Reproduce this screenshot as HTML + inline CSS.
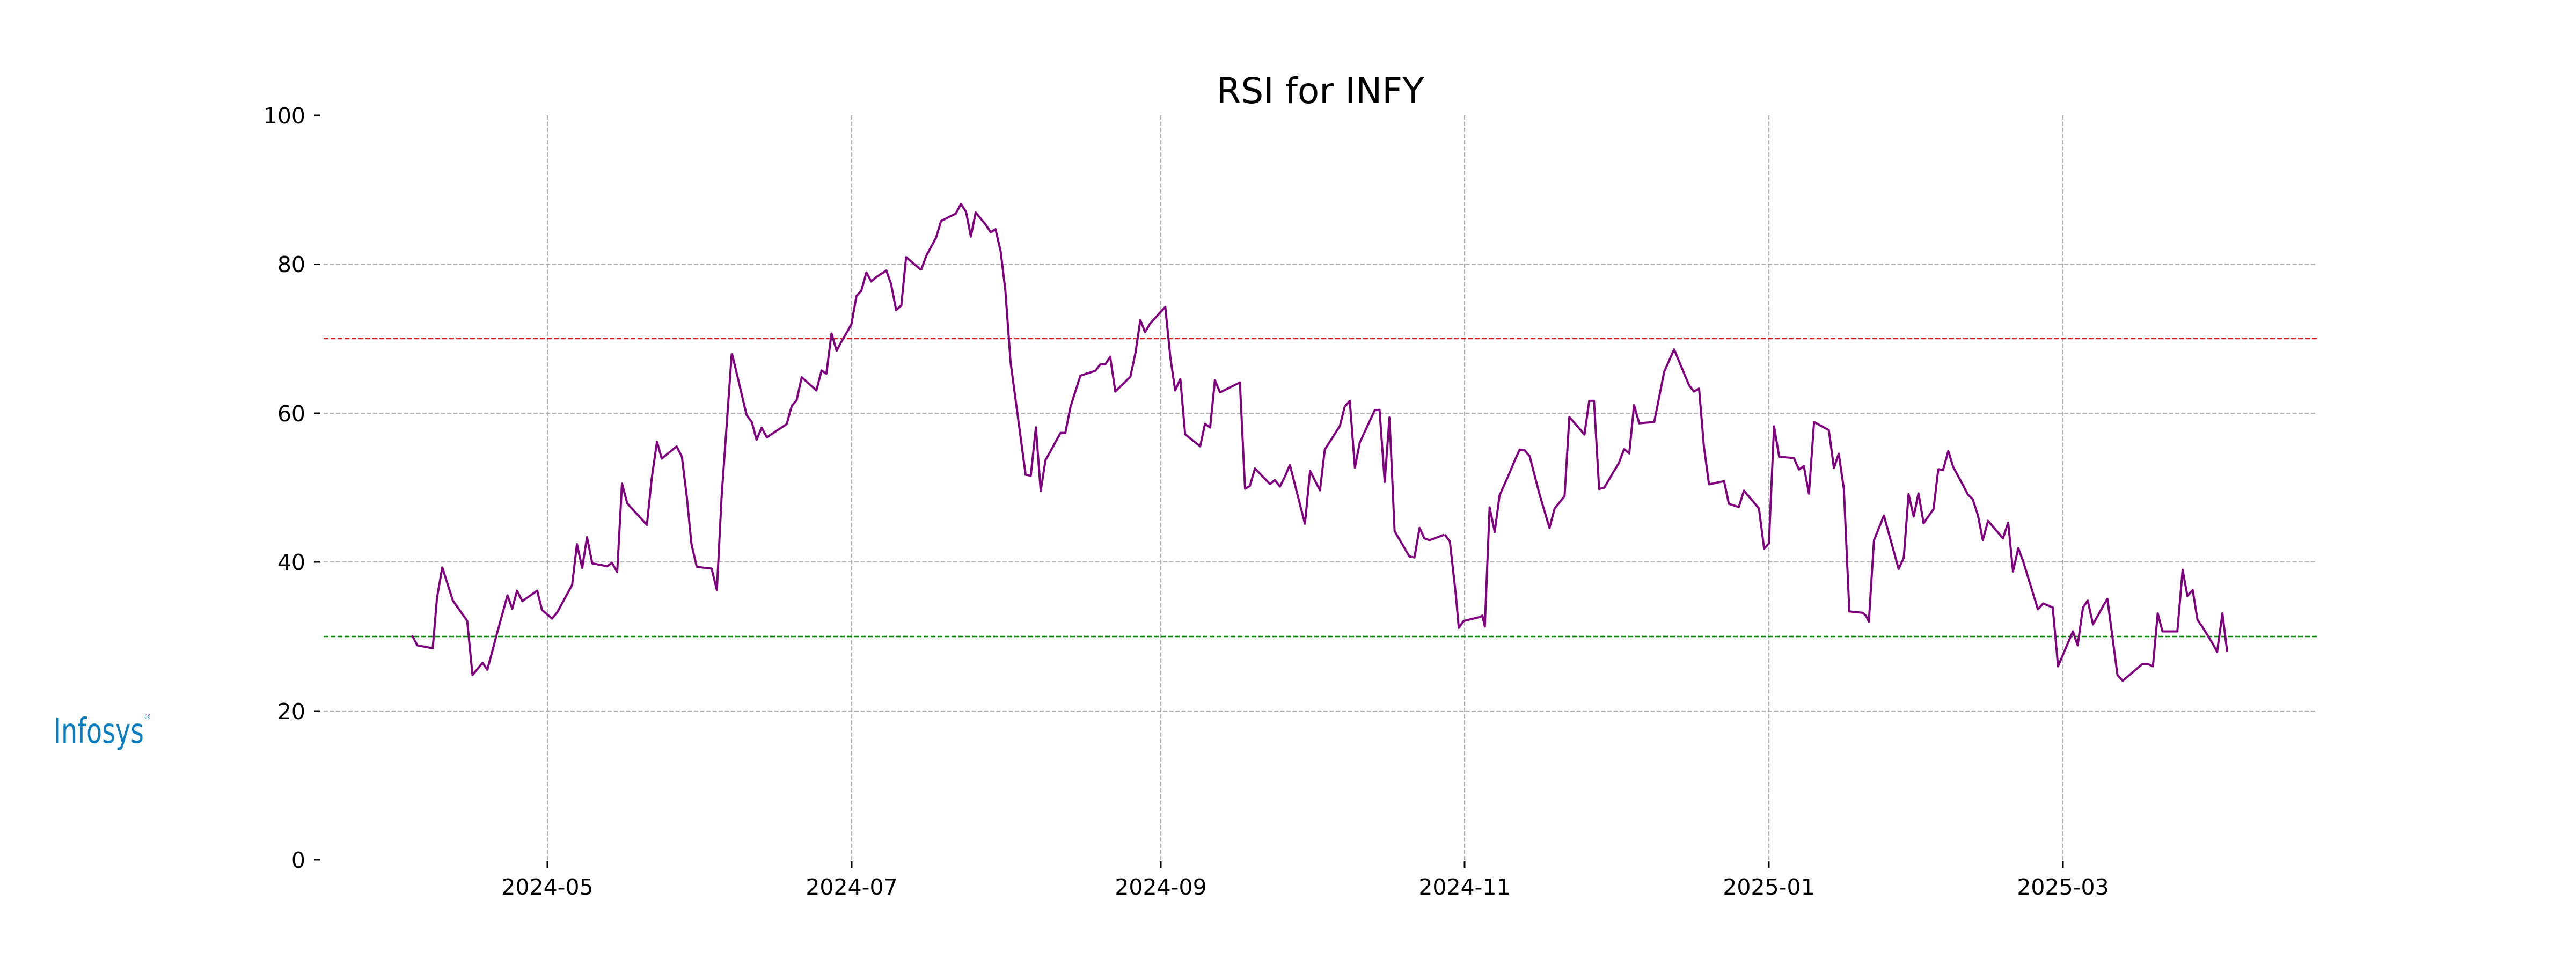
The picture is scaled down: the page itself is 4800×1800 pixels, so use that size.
<!DOCTYPE html>
<html><head><meta charset="utf-8"><style>
html,body{margin:0;padding:0;background:#fff;}
svg{display:block;}
text{font-family:"DejaVu Sans","Liberation Sans",sans-serif;fill:#000;}
</style></head><body>
<svg width="4800" height="1800" viewBox="0 0 4800 1800" xmlns="http://www.w3.org/2000/svg">
<rect width="4800" height="1800" fill="#fff"/>
<text x="2460" y="192" font-size="66" text-anchor="middle">RSI for INFY</text>
<g stroke="#b0b0b0" stroke-width="2.2" stroke-dasharray="8,3.5" fill="none">
<line x1="603" y1="1325" x2="4317" y2="1325"/>
<line x1="603" y1="1047" x2="4317" y2="1047"/>
<line x1="603" y1="770" x2="4317" y2="770"/>
<line x1="603" y1="492.5" x2="4317" y2="492.5"/>
<line x1="1020" y1="215" x2="1020" y2="1602"/>
<line x1="1587" y1="215" x2="1587" y2="1602"/>
<line x1="2163" y1="215" x2="2163" y2="1602"/>
<line x1="2729" y1="215" x2="2729" y2="1602"/>
<line x1="3296" y1="215" x2="3296" y2="1602"/>
<line x1="3844" y1="215" x2="3844" y2="1602"/>
</g>
<line x1="603" y1="631" x2="4317" y2="631" stroke="#ff0000" stroke-width="2.5" stroke-dasharray="9,4"/>
<line x1="603" y1="1186" x2="4317" y2="1186" stroke="#008000" stroke-width="2.5" stroke-dasharray="9,4"/>
<g stroke="#000" stroke-width="3">
<line x1="585" y1="215" x2="597" y2="215"/>
<line x1="585" y1="492.5" x2="597" y2="492.5"/>
<line x1="585" y1="770" x2="597" y2="770"/>
<line x1="585" y1="1047" x2="597" y2="1047"/>
<line x1="585" y1="1325" x2="597" y2="1325"/>
<line x1="585" y1="1602" x2="597" y2="1602"/>
<line x1="1020" y1="1605" x2="1020" y2="1617"/>
<line x1="1587" y1="1605" x2="1587" y2="1617"/>
<line x1="2163" y1="1605" x2="2163" y2="1617"/>
<line x1="2729" y1="1605" x2="2729" y2="1617"/>
<line x1="3296" y1="1605" x2="3296" y2="1617"/>
<line x1="3844" y1="1605" x2="3844" y2="1617"/>
</g>
<g font-size="41" text-anchor="end">
<text x="569" y="230">100</text>
<text x="569" y="507">80</text>
<text x="569" y="785">60</text>
<text x="569" y="1062">40</text>
<text x="569" y="1340">20</text>
<text x="569" y="1617">0</text>
</g>
<g font-size="41" text-anchor="middle">
<text x="1020" y="1667">2024-05</text>
<text x="1587" y="1667">2024-07</text>
<text x="2163" y="1667">2024-09</text>
<text x="2729" y="1667">2024-11</text>
<text x="3296" y="1667">2025-01</text>
<text x="3844" y="1667">2025-03</text>
</g>
<text x="100" y="1384" font-size="64" fill="#0a7cc0" style="fill:#0a7cc0" textLength="168" lengthAdjust="spacingAndGlyphs">Infosys</text>
<text x="268" y="1340" font-size="14" style="fill:#0a7cc0">®</text>
<g fill="none" stroke="#800080" stroke-width="4" stroke-linejoin="round">
<g transform="translate(0,100) scale(0.8929,1.0841)">
<polyline vector-effect="non-scaling-stroke" points="860,1000 871,1017 903,1022 912,935 923,883 945,940 975,975 986,1068 1007,1047 1017,1059 1038,994 1059,931 1069,954 1079,923 1090,941 1121,923 1131,956 1152,971 1163,960 1194,913 1204,843 1215,884 1225,831 1236,876 1267,881 1277,875 1288,891 1298,739 1309,773 1350,810 1360,730 1371,667 1381,696 1412,675 1423,693 1433,760 1443,843 1454,882 1485,885 1496,922 1506,760 1527,516"/>
</g>
<g transform="translate(740,300) scale(0.6378,0.5102)">
<polyline vector-effect="non-scaling-stroke" points="978,702 993,780 1021,928 1036,953 1050,1018 1065,974 1080,1009 1138,961 1153,894 1167,874 1182,790 1225,838 1240,765 1254,777 1269,630 1284,693 1298,660 1327,597 1342,493 1356,474 1371,407 1385,440 1400,424 1429,400 1443,449 1458,545 1473,527 1487,351 1531,398"/>
</g>
<g transform="translate(1700,300) scale(0.6378,0.5102)">
<polyline vector-effect="non-scaling-stroke" points="26,397 40,348 55,313 69,281 84,219 127,192 142,157 157,186 171,276 185,188 214,232 229,260 243,249 258,330 272,476 287,735 331,1146 346,1149 361,973 375,1205 389,1093 433,993 447,993 462,898 491,784 535,766 549,743 564,742 578,715 593,842 637,788 652,700 666,581 680,625 695,593 739,533 754,720 768,838 783,796 797,998 841,1042 855,960 870,973 884,801 899,845 957,809 972,1197 986,1187 1001,1123 1045,1180 1059,1165 1074,1189 1088,1154 1103,1110 1147,1325 1162,1132 1191,1203 1205,1054 1249,968 1263,898 1278,876 1293,1120 1307,1029 1351,910 1365,909 1380,1172 1394,937 1409,1352 1452,1444 1467,1448 1482,1340 1496,1378 1511,1385 1554,1365"/>
</g>
<g transform="translate(2650,300) scale(0.6378,0.5102)">
<polyline vector-effect="non-scaling-stroke" points="66,1364 81,1390 98,1580 107,1705 121,1680 170,1665 176,1660 183,1700 197,1265 212,1355 226,1222 255,1140 270,1095 285,1054 299,1056 314,1078 343,1218 372,1340 387,1269 416,1224 430,935 474,999 488,876 502,876 517,1198 532,1193 575,1102 590,1052 605,1068 619,891 634,958 678,953 707,770 736,688 780,820 794,842 809,831 823,1042 838,1181 882,1169 896,1252 925,1264 940,1204 984,1269 999,1416 1013,1397 1028,969 1043,1080 1086,1085 1101,1127 1115,1114 1130,1215 1145,953 1188,983 1203,1121 1217,1069 1232,1198 1248,1645 1287,1650 1296,1660 1305,1682 1320,1385 1349,1295 1392,1490 1407,1449 1421,1217 1436,1298 1450,1214 1465,1323 1494,1271 1508,1124"/>
</g>
<g transform="translate(3400,100) scale(0.8929,1.0841)">
<polyline vector-effect="non-scaling-stroke" points="237,714 247,716 258,683 268,710 289,742 299,758 309,766 320,794 330,836 341,803 372,833 383,806 393,890 404,850 414,872 445,955 456,945 476,952 487,1053 518,993 528,1017 539,952 549,940 560,981 580,951 590,937 611,1068 622,1078 663,1049 674,1049 685,1053 695,962 705,993 736,993 747,887 757,932 768,922 778,973 788,985 809,1013 819,1028 830,962 840,1028"/>
</g>
</g>
</svg>
</body></html>
